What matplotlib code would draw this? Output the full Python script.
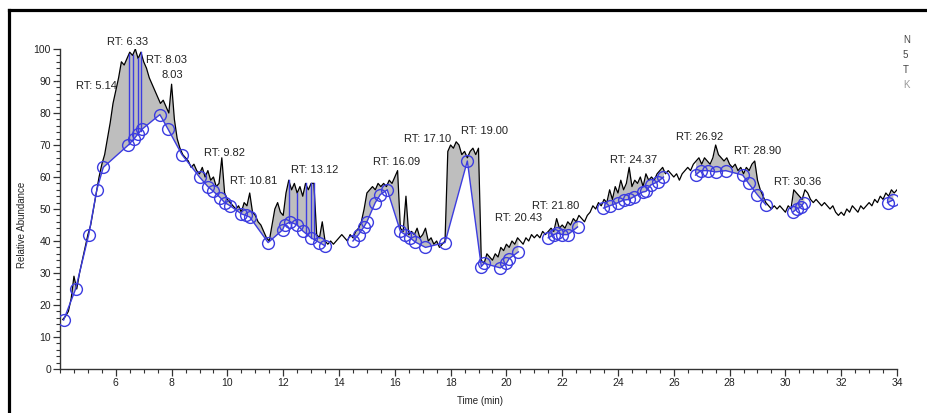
import numpy as np
import matplotlib
matplotlib.use("Agg")
import matplotlib.pyplot as plt
from matplotlib.lines import Line2D
from matplotlib.ticker import MultipleLocator

plt.rcParams["font.family"] = ["Liberation Sans Narrow", "Liberation Sans", "DejaVu Sans"]

# TIC trace, one value per scan, scans every 0.1 min starting at 4.1 min
scan_start = 4.1
scan_step = 0.1
abundance = [
    15.5, 16.5, 18, 22, 29, 25, 30, 34, 38, 42,      # 4.1 - 5.0
    45, 50, 55, 60, 64, 67, 72, 77, 83, 87,          # 5.1 - 6.0
    91, 96, 95, 97, 99, 98, 100, 97, 99, 96,         # 6.1 - 7.0
    94, 91, 89, 87, 85, 83, 84, 82, 80, 89,          # 7.1 - 8.0
    78, 72, 69, 67, 66, 65, 63, 64, 62, 61,          # 8.1 - 9.0
    63, 60, 62, 59, 60, 57, 58, 66, 55, 53,          # 9.1 - 10.0
    52, 51, 50, 51, 49, 52, 51, 55, 49, 48,          # 10.1 - 11.0
    46, 45, 43, 41, 40, 45, 50, 52, 49, 48,          # 11.1 - 12.0
    55, 59, 56, 58, 55, 57, 54, 58, 56, 58,          # 12.1 - 13.0
    58, 42, 41, 46, 40, 39, 40, 39, 40, 41,          # 13.1 - 14.0
    42, 41, 40, 42, 41, 43, 44, 46, 50, 55,          # 14.1 - 15.0
    56, 57, 56, 58, 57, 58, 57, 59, 58, 60,          # 15.1 - 16.0
    62, 44, 43, 54, 42, 43, 42, 44, 41, 42,          # 16.1 - 17.0
    44, 40, 41, 39, 40, 38, 39, 40, 68, 70,          # 17.1 - 18.0
    69, 71, 70, 67, 68, 66, 68, 69, 67, 69,          # 18.1 - 19.0
    34, 33, 36, 35, 34, 36, 35, 38, 37, 39,          # 19.1 - 20.0
    38, 40, 39, 41, 40, 39, 41, 40, 42, 41,          # 20.1 - 21.0
    42, 41, 43, 42, 43, 44, 43, 47, 44, 45,          # 21.1 - 22.0
    44, 46, 45, 47, 46, 48, 47, 46, 48, 49,          # 22.1 - 23.0
    51, 50, 52, 51, 53, 52, 56, 53, 57, 55,          # 23.1 - 24.0
    59, 56, 58, 63, 57, 59, 58, 60, 57, 61,          # 24.1 - 25.0
    59, 60, 59, 61, 62, 63, 61, 62, 61, 60,          # 25.1 - 26.0
    61, 59, 61, 62, 63, 62, 64, 65, 66, 64,          # 26.1 - 27.0
    66, 65, 64, 66, 70, 67, 66, 65, 66, 64,          # 27.1 - 28.0
    63, 64, 62, 63, 61, 63, 62, 64, 65, 59,          # 28.1 - 29.0
    56, 54, 52, 51, 50, 51, 50, 51, 50, 49,          # 29.1 - 30.0
    51, 50, 56, 55, 54, 53, 56, 55, 53, 52,          # 30.1 - 31.0
    53, 52, 51, 52, 51, 50, 51, 49, 48, 49,          # 31.1 - 32.0
    48, 50, 49, 51, 50, 49, 51, 50, 51, 52,          # 32.1 - 33.0
    51, 53, 52, 54, 53, 55, 54, 56, 55, 56,          # 33.1 - 34.0
]

# detected peak start/end points (blue circles)
base_time = [4.13, 4.56, 5.03, 5.32, 5.55, 6.45, 6.66, 6.80, 6.95, 7.58,
             7.87, 8.37, 9.00, 9.30, 9.50, 9.75, 9.90, 10.10, 10.50, 10.65,
             10.80, 11.46, 11.98, 12.05, 12.25, 12.50, 12.72, 13.00, 13.30, 13.50,
             14.50, 14.70, 14.90, 15.00, 15.30, 15.48, 15.73, 16.20, 16.37, 16.55,
             16.73, 17.10, 17.80, 18.60, 19.10, 19.20, 19.78, 20.00, 20.10, 20.43,
             21.50, 21.70, 21.83, 22.00, 22.20, 22.55, 23.48, 23.70, 24.00, 24.20,
             24.40, 24.56, 24.88, 25.00, 25.17, 25.42, 25.63, 26.78, 26.96, 27.21,
             27.50, 27.86, 28.47, 28.68, 29.00, 29.30, 30.26, 30.40, 30.55, 30.66,
             33.66, 33.85]
base_abund = [15.3, 25, 42, 56, 63, 70, 72, 73.5, 75, 79.5,
              75, 67, 60, 57, 55.5, 53.5, 52, 51, 48.5, 48,
              47.5, 39.5, 43.5, 45, 46, 45, 43, 41, 39.5, 38.5,
              40, 42, 44.5, 46, 52, 54.5, 56, 43, 42, 41,
              39.7, 38, 39.5, 65, 32, 33, 31.6, 33, 34.5, 36.6,
              41, 42, 42.5, 42, 42, 44.4, 50.3, 51, 52, 52.8,
              53, 53.8, 55.3, 55.5, 57.5, 58.5, 60, 60.6, 62, 62,
              61.6, 62, 60.6, 58, 54.4, 51.3, 49, 50, 50.6, 52,
              52, 52.8]

# peak apex markers drawn as blue drop lines
apex_time = [6.47, 6.61, 6.79, 6.90, 12.2, 12.5, 12.8, 13.0, 13.1]

peak_labels = ["RT: 5.14", "RT: 6.33", "RT: 8.03", "8.03", "RT: 9.82", "RT: 10.81",
               "RT: 13.12", "RT: 16.09", "RT: 17.10", "RT: 19.00", "RT: 20.43",
               "RT: 21.80", "RT: 24.37", "RT: 26.92", "RT: 28.90", "RT: 30.36"]
# where each label sits (time, abundance)
label_pos = [(5.29, 88.4), (6.41, 102.2), (7.80, 96.6), (8.01, 92.0), (9.88, 67.5),
             (10.95, 58.8), (13.14, 62.2), (16.08, 64.7), (17.19, 71.9), (19.20, 74.4),
             (20.45, 47.2), (21.78, 50.9), (24.57, 65.3), (26.94, 72.5), (28.99, 68.1),
             (30.45, 58.4)]

header_lines = ["N", "5", "T", "K"]

BLUE = "#3c3ce0"
GRAY_FILL = "#bebebe"
AX_COL = "#333333"

t = np.round(scan_start + scan_step * np.arange(len(abundance)), 2)
y = np.array(abundance, dtype=float)
bt = np.array(base_time)
by = np.array(base_abund)

fig = plt.figure(figsize=(9.28, 4.13), dpi=100)
ax = fig.add_axes([60 / 928, 44 / 413, 837 / 928, 320 / 413])

# split baseline into groups where circles are close together
groups = []
start = 0
for i in range(1, len(bt)):
    if bt[i] - bt[i - 1] > 0.92:
        groups.append((start, i))
        start = i
groups.append((start, len(bt)))

for a, b in groups:
    gt, gy = bt[a:b], by[a:b]
    if len(gt) > 1:
        m = (t >= gt[0]) & (t <= gt[-1])
        tt = np.concatenate([[gt[0]], t[m], [gt[-1]]])
        yy = np.interp(tt, t, y)
        bb = np.interp(tt, gt, gy)
        ax.fill_between(tt, yy, bb, where=yy >= bb, interpolate=True,
                        color=GRAY_FILL, lw=0, zorder=1)
        ax.plot(gt, gy, color=BLUE, lw=1.0, zorder=3)

for at in apex_time:
    ax.plot([at, at], [np.interp(at, bt, by), np.interp(at, t, y)],
            color=BLUE, lw=1.0, zorder=3)

ax.plot(t, y, color="black", lw=0.9, zorder=2)
ax.plot(bt, by, ls="none", marker="o", ms=8.5, mfc="none", mec=BLUE,
        mew=1.0, zorder=4)

for txt, (lx, ly) in zip(peak_labels, label_pos):
    ax.text(lx, ly, txt, ha="center", va="center", fontsize=8,
            color="#222222", clip_on=False, zorder=5)

ax.set_xlim(4.0, 34.0)
ax.set_ylim(0, 100)
ax.set_xticks(np.arange(6, 35, 2))
ax.xaxis.set_minor_locator(MultipleLocator(0.5))
ax.set_yticks(np.arange(0, 101, 10))
ax.yaxis.set_minor_locator(MultipleLocator(2))
ax.tick_params(which="major", direction="out", length=5, width=0.9,
               color=AX_COL, labelcolor="#222222", labelsize=7.5, pad=1.5)
ax.tick_params(which="minor", direction="out", length=3, width=0.8, color=AX_COL)
for s in ["top", "right"]:
    ax.spines[s].set_visible(False)
for s in ["left", "bottom"]:
    ax.spines[s].set_color(AX_COL)
    ax.spines[s].set_linewidth(1.0)

fig.text(22 / 928, 1 - 225 / 413, "Relative Abundance", rotation=90,
         ha="center", va="center", fontsize=7, color="#222222")
fig.text(480 / 928, 1 - 401 / 413, "Time (min)", ha="center", va="center",
         fontsize=7, color="#222222")

for i, h in enumerate(header_lines):
    fig.text(903 / 928, 1 - (40 + 15 * i) / 413, h, ha="left", va="center",
             fontsize=7, color="#444444" if i < 3 else "#999999")

# screenshot frame
fig.add_artist(Line2D([9 / 928, 9 / 928], [0, 1 - 10 / 413], color="black",
                      lw=2.3, transform=fig.transFigure))
fig.add_artist(Line2D([9 / 928, 1], [1 - 10 / 413, 1 - 10 / 413], color="black",
                      lw=2.3, transform=fig.transFigure))

fig.savefig("out.png", dpi=100)
